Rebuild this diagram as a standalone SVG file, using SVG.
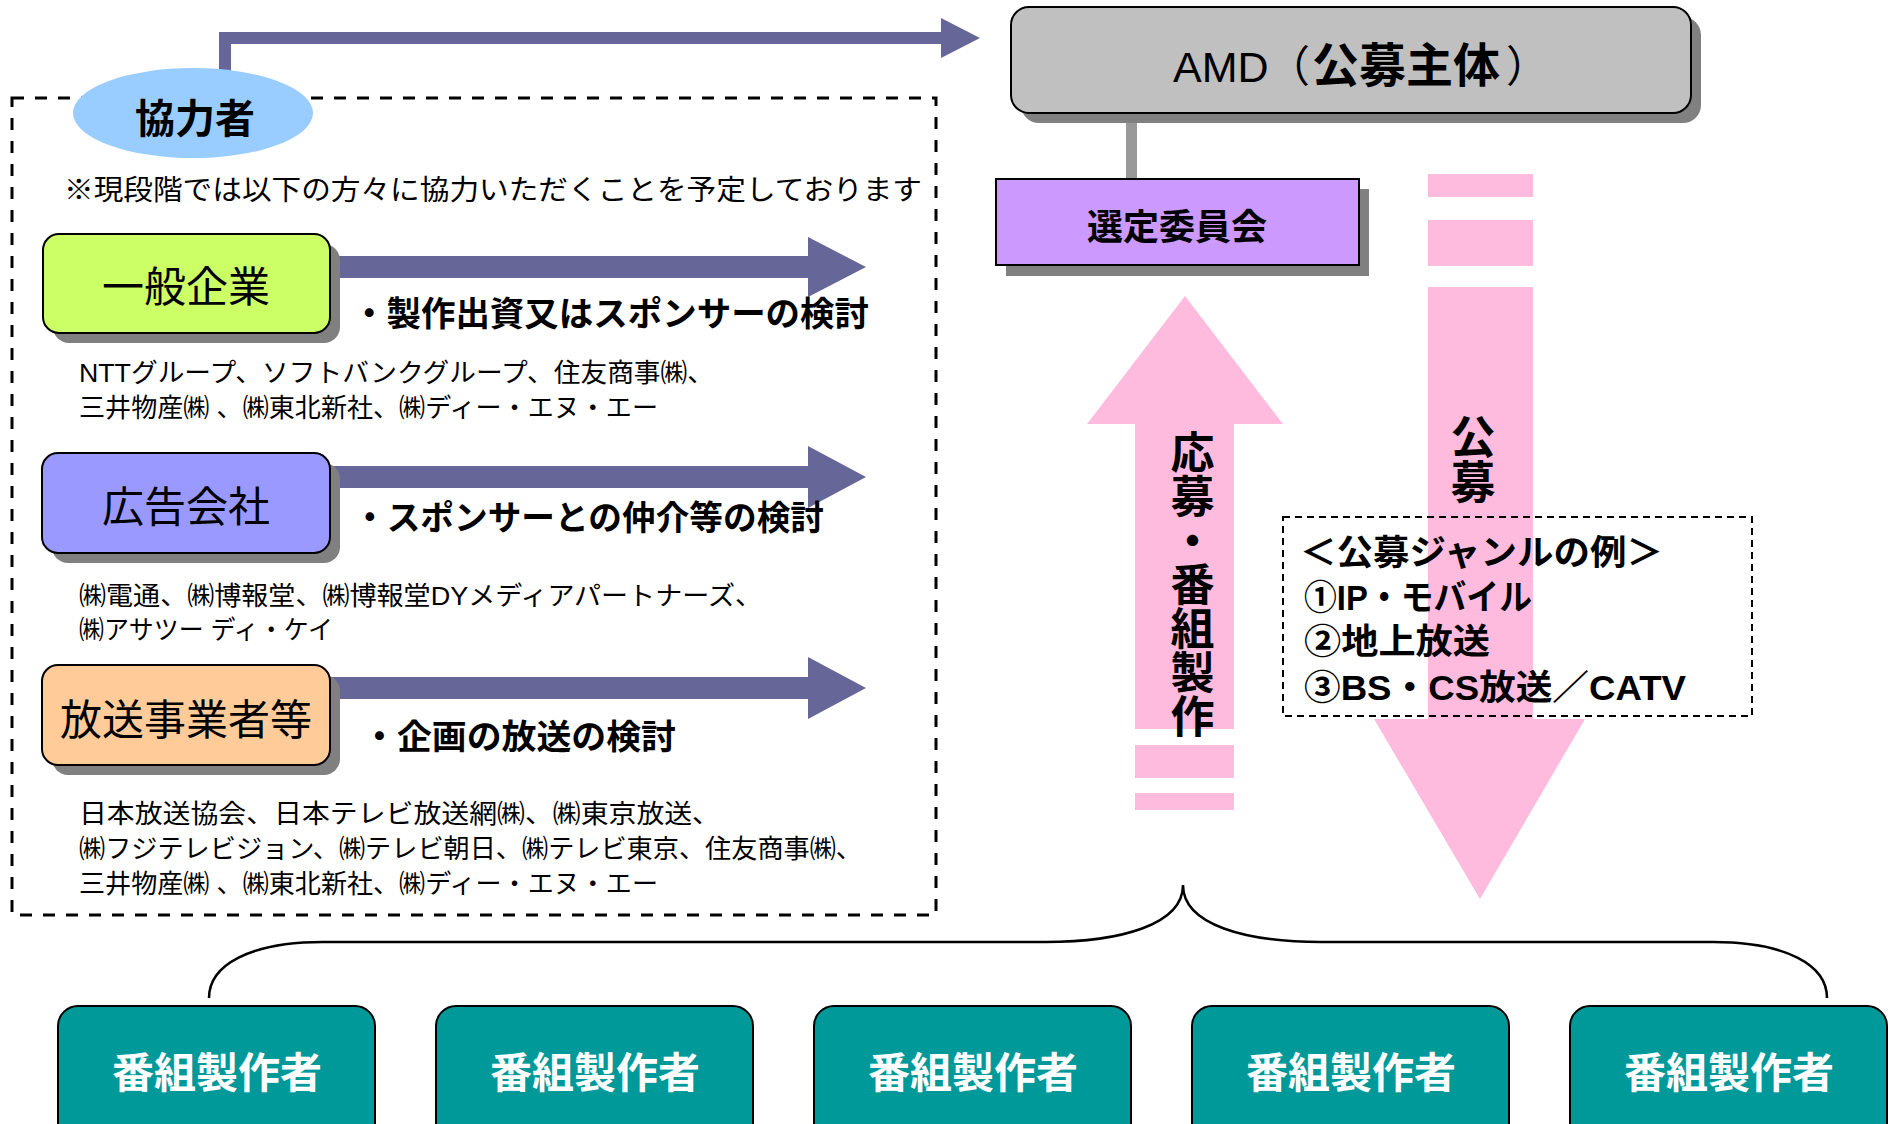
<svg xmlns="http://www.w3.org/2000/svg" width="1898" height="1124" viewBox="0 0 1898 1124">
<style>
text{font-family:"Liberation Sans","Noto Sans CJK JP",sans-serif;fill:#000}
.b{font-weight:bold}
.c{text-anchor:middle}
.v{writing-mode:vertical-rl;font-weight:bold}
.co{font-size:26px}
.big{font-size:42px}
.lbl{font-size:34px;font-weight:bold}
.shadow{fill:#808080}
.box{stroke:#000;stroke-width:2}
.parrow{fill:#666699}
.pink{fill:#FFBBDD}
.prod{fill:#009999;stroke:#000;stroke-width:2}
.prodt{fill:#fff;font-size:42px;font-weight:bold;text-anchor:middle}
.genre{font-size:35px;font-weight:bold}
</style>
<rect width="1898" height="1124" fill="#fff"/>

<g id="connectors">
  <polyline points="225,95 225,38 941,38" fill="none" stroke="#666699" stroke-width="12" stroke-linejoin="miter"/>
  <polygon class="parrow" points="941,18 980,38 941,58"/>
  <line x1="1131.5" y1="113" x2="1131.5" y2="179" stroke="#999999" stroke-width="11"/>
  <path d="M300,256 H808 V237 L866,267 L808,297 V278 H300 Z" class="parrow"/>
  <path d="M300,466 H808 V446 L866,477 L808,508 V488 H300 Z" class="parrow"/>
  <path d="M300,677 H808 V657 L866,688 L808,719 V699 H300 Z" class="parrow"/>
  <g id="arrow-up">
    <path class="pink" d="M1185,296 L1283,424 H1234 V729 H1135 V424 H1087 Z"/>
    <rect class="pink" x="1135" y="745" width="99" height="33"/>
    <rect class="pink" x="1135" y="793" width="99" height="17"/>
  </g>
  <g id="arrow-down">
    <rect class="pink" x="1428" y="174" width="105" height="23"/>
    <rect class="pink" x="1428" y="220" width="105" height="46"/>
    <path class="pink" d="M1428,287 H1533 V719 H1585 L1480,899 L1374,719 H1428 Z"/>
  </g>
  <path id="brace" d="M209,998 C209,965 250,942 323,942 L1045,942 C1120,942 1183,925 1183,885 C1183,925 1246,942 1321,942 L1713,942 C1786,942 1827,965 1827,998" fill="none" stroke="#000" stroke-width="2.5"/>
</g>

<g id="cooperators">
  <rect x="12" y="98" width="924" height="817" fill="none" stroke="#000" stroke-width="3" stroke-dasharray="12 11"/>
  <ellipse cx="193" cy="113" rx="120" ry="45" fill="#99CCFF"/>
  <text class="b c" x="195" y="133" font-size="40">協力者</text>
  <text x="64" y="200" font-size="28" textLength="858" lengthAdjust="spacingAndGlyphs">※現段階では以下の方々に協力いただくことを予定しております</text>
</g>

<g id="node-ippan">
  <rect class="shadow" x="53" y="244" width="287" height="99" rx="16"/>
  <rect class="box" x="43" y="234" width="287" height="99" rx="16" fill="#CCFF66"/>
  <text class="c big" x="186" y="302">一般企業</text>
  <text class="lbl" x="352" y="326" textLength="517" lengthAdjust="spacingAndGlyphs">・製作出資又はスポンサーの検討</text>
  <text class="co" x="79" y="382" textLength="635" lengthAdjust="spacingAndGlyphs">NTTグループ、ソフトバンクグループ、住友商事㈱、</text>
  <text class="co" x="79" y="417" textLength="579" lengthAdjust="spacingAndGlyphs">三井物産㈱ 、㈱東北新社、㈱ディー・エヌ・エー</text>
</g>

<g id="node-koukoku">
  <rect class="shadow" x="52" y="463" width="288" height="100" rx="16"/>
  <rect class="box" x="42" y="453" width="288" height="100" rx="16" fill="#9999FF"/>
  <text class="c big" x="186" y="522">広告会社</text>
  <text class="lbl" x="353" y="530" textLength="471" lengthAdjust="spacingAndGlyphs">・スポンサーとの仲介等の検討</text>
  <text class="co" x="79" y="605" textLength="683" lengthAdjust="spacingAndGlyphs">㈱電通、㈱博報堂、㈱博報堂DYメディアパートナーズ、</text>
  <text class="co" x="79" y="639" textLength="254" lengthAdjust="spacingAndGlyphs">㈱アサツー ディ・ケイ</text>
</g>

<g id="node-housou">
  <rect class="shadow" x="52" y="675" width="288" height="100" rx="16"/>
  <rect class="box" x="42" y="665" width="288" height="100" rx="16" fill="#FFCC99"/>
  <text class="c big" x="186" y="735">放送事業者等</text>
  <text class="lbl" x="362" y="749" textLength="314" lengthAdjust="spacingAndGlyphs">・企画の放送の検討</text>
  <text class="co" x="79" y="823" textLength="641" lengthAdjust="spacingAndGlyphs">日本放送協会、日本テレビ放送網㈱、㈱東京放送、</text>
  <text class="co" x="79" y="858" textLength="783" lengthAdjust="spacingAndGlyphs">㈱フジテレビジョン、㈱テレビ朝日、㈱テレビ東京、住友商事㈱、</text>
  <text class="co" x="79" y="893" textLength="579" lengthAdjust="spacingAndGlyphs">三井物産㈱ 、㈱東北新社、㈱ディー・エヌ・エー</text>
</g>

<g id="node-amd">
  <rect class="shadow" x="1021" y="17" width="680" height="106" rx="18"/>
  <rect class="box" x="1011" y="7" width="680" height="106" rx="18" fill="#C0C0C0"/>
  <text y="82" font-size="43"><tspan x="1173">AMD</tspan><tspan x="1267">（</tspan><tspan class="b" x="1312" font-size="47">公募主体</tspan><tspan x="1506">）</tspan></text>
</g>

<g id="node-senteiiinkai">
  <rect class="shadow" x="1006" y="189" width="363" height="87"/>
  <rect class="box" x="996" y="179" width="363" height="86" fill="#CC99FF"/>
  <text class="b c" x="1177" y="240" font-size="36">選定委員会</text>
</g>

<g id="label-oubo">
  <text class="v" x="1189" y="430" font-size="44">応募・番組製作</text>
</g>

<g id="label-koubo">
  <text class="v" x="1469" y="414" font-size="45">公募</text>
</g>

<g id="genre-box">
  <rect x="1283" y="517" width="469" height="199" fill="none" stroke="#000" stroke-width="2" stroke-dasharray="7 5"/>
  <text class="genre" x="1300" y="565" textLength="363" lengthAdjust="spacingAndGlyphs">＜公募ジャンルの例＞</text>
  <text class="genre" x="1304" y="610" textLength="228" lengthAdjust="spacingAndGlyphs">①IP・モバイル</text>
  <text class="genre" x="1304" y="654" textLength="186" lengthAdjust="spacingAndGlyphs">②地上放送</text>
  <text class="genre" x="1304" y="700" textLength="382" lengthAdjust="spacingAndGlyphs">③BS・CS放送／CATV</text>
</g>

<g id="producer-1"><rect class="prod" x="58" y="1006" width="317" height="160" rx="20"/><text class="prodt" x="217" y="1088">番組製作者</text></g>
<g id="producer-2"><rect class="prod" x="436" y="1006" width="317" height="160" rx="20"/><text class="prodt" x="595" y="1088">番組製作者</text></g>
<g id="producer-3"><rect class="prod" x="814" y="1006" width="317" height="160" rx="20"/><text class="prodt" x="973" y="1088">番組製作者</text></g>
<g id="producer-4"><rect class="prod" x="1192" y="1006" width="317" height="160" rx="20"/><text class="prodt" x="1351" y="1088">番組製作者</text></g>
<g id="producer-5"><rect class="prod" x="1570" y="1006" width="317" height="160" rx="20"/><text class="prodt" x="1729" y="1088">番組製作者</text></g>
</svg>
